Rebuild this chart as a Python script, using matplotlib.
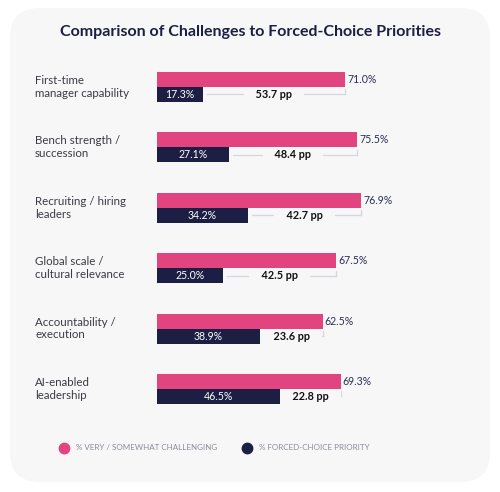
import matplotlib.pyplot as plt
from matplotlib.patches import FancyBboxPatch
from matplotlib.lines import Line2D
from matplotlib.transforms import blended_transform_factory

# data
categories = ['First-time\nmanager capability', 'Bench strength /\nsuccession',
              'Recruiting / hiring\nleaders', 'Global scale /\ncultural relevance',
              'Accountability /\nexecution', 'AI-enabled\nleadership']
challenging = [71.0, 75.5, 76.9, 67.5, 62.5, 69.3]
priority = [17.3, 27.1, 34.2, 25.0, 38.9, 46.5]
gap_pp = [53.7, 48.4, 42.7, 42.5, 23.6, 22.8]

pink = '#e1447f'
navy = '#1c1f43'
card = '#f7f7f8'
font = 'Lato'

fig = plt.figure(figsize=(5, 4.92), dpi=100)
fig.patch.set_facecolor('white')

# rounded card behind everything
fig.patches.append(FancyBboxPatch((10 / 500, 10 / 492), 480 / 500, 474 / 492,
                                  boxstyle='round,pad=0,rounding_size=0.06',
                                  transform=fig.transFigure, facecolor=card,
                                  edgecolor='none', zorder=-5))

fig.text(0.5, 1 - 32 / 492, 'Comparison of Challenges to Forced-Choice Priorities',
         ha='center', va='center', fontsize=11.5, fontweight='bold', color=navy, family=font)

ax = fig.add_axes([157 / 500, (492 - 419.2) / 492, 265 / 500, 362.4 / 492])
ax.set_zorder(2)
ax.set_xlim(0, 100)
ax.set_ylim(5.5, -0.5)
ax.axis('off')

h = 0.248
ys = range(len(categories))
ax.barh([y - h / 2 for y in ys], challenging, height=h, color=pink)
ax.barh([y + h / 2 for y in ys], priority, height=h, color=navy)

lab_tr = blended_transform_factory(fig.transFigure, ax.transData)
px = 100 / 265  # one pixel in data units along x
for y, cat, c, p, g in zip(ys, categories, challenging, priority, gap_pp):
    ax.text(35 / 500, y, cat, transform=lab_tr, ha='left', va='center', fontsize=8.3,
            color='#3b3b45', family=font, linespacing=1.2)
    ax.text(c + 2.2 * px, y - h / 2, f'{c:.1f}%', ha='left', va='center', fontsize=7.6,
            color='#2b2f55', family=font)
    ax.text(p / 2, y + h / 2, f'{p:.1f}%', ha='center', va='center', fontsize=7.6,
            color='white', family=font)
    # gap bracket, broken around the pp label
    ax.plot([p + 4 * px, c], [y + h / 2, y + h / 2], color='#d6d7de', lw=0.9, zorder=1)
    ax.plot([c, c], [y + h / 2, y + 0.04], color='#d6d7de', lw=0.9, zorder=1)
    ax.text((p + c) / 2, y + h / 2, f'    {g:.1f} pp    ', ha='center', va='center',
            fontsize=7.8, fontweight='bold', color='#111111', family=font, zorder=2,
            bbox=dict(boxstyle='square,pad=0.15', facecolor=card, edgecolor='none'))

# legend
for xpix, col, txt in [(64, pink, '% VERY / SOMEWHAT CHALLENGING'),
                       (247, navy, '% FORCED-CHOICE PRIORITY')]:
    fig.add_artist(Line2D([xpix / 500], [1 - 448 / 492], marker='o', markersize=7.5,
                          color=col, linestyle='none', transform=fig.transFigure))
    fig.text((xpix + 12) / 500, 1 - 448 / 492, txt, ha='left', va='center', fontsize=5.8,
             color='#8a8c99', family=font)

fig.savefig('out.png', dpi=100, facecolor='white')
